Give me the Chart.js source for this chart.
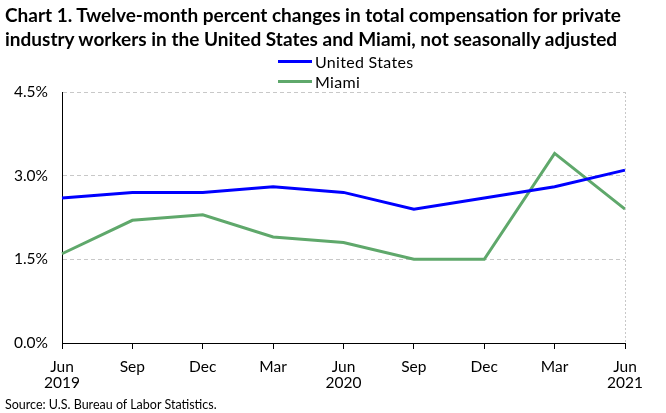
<!DOCTYPE html>
<html>
<head>
<meta charset="utf-8">
<script src="https://cdn.jsdelivr.net/npm/chart.js@4"></script>
<style>
  html, body { margin: 0; padding: 0; background: #fff; }
  #wrap { position: relative; width: 666px; height: 413px; overflow: hidden; font-family: Lato, "Open Sans", sans-serif; }
  #title { position: absolute; left: 5px; top: 3px; font-weight: bold; font-size: 19px; letter-spacing: 0px; line-height: 24px; color: #000; white-space: nowrap; }
  #legend { position: absolute; left: 278px; top: 51px; font-size: 16px; letter-spacing: 0.3px; color: #000; }
  .li { height: 20px; display: flex; align-items: center; }
  .sw { width: 34px; height: 3px; margin-right: 3px; }
  #source { position: absolute; left: 5px; top: 397px; font-size: 12.5px; letter-spacing: 0px; color: #000; white-space: nowrap; }
  canvas { position: absolute; left: 0; top: 0; }
</style>
</head>
<body>
<div id="wrap">
  <canvas id="c" width="666" height="413"></canvas>
  <div id="title">Chart 1. Twelve-month percent changes in total compensation for private<br>industry workers in the United States and Miami, not seasonally adjusted</div>
  <div id="legend"></div>
  <div id="source">Source: U.S. Bureau of Labor Statistics.</div>
</div>
<script>
const categories = [["Jun","2019"],"Sep","Dec","Mar",["Jun","2020"],"Sep","Dec","Mar",["Jun","2021"]];
const unitedStates = [2.6, 2.7, 2.7, 2.8, 2.7, 2.4, 2.6, 2.8, 3.1];
const miami = [1.6, 2.2, 2.3, 1.9, 1.8, 1.5, 1.5, 3.4, 2.4];
const yTicks = [0, 1.5, 3.0, 4.5];
const seriesNames = ["United States", "Miami"];
const seriesColors = ["#0000ff", "#5fa86b"];

const FONT = 'Lato, "Open Sans", sans-serif';

const legend = document.getElementById('legend');
seriesNames.forEach((n, i) => {
  const d = document.createElement('div');
  d.className = 'li';
  d.innerHTML = '<div class="sw" style="background:' + seriesColors[i] + '"></div><span>' + n + '</span>';
  legend.appendChild(d);
});

const rightEdge = {
  id: 'rightEdge',
  afterDraw(chart) {
    const a = chart.chartArea, ctx = chart.ctx;
    ctx.save();
    ctx.strokeStyle = '#c8c8c8';
    ctx.lineWidth = 1;
    ctx.setLineDash([2, 2]);
    ctx.beginPath();
    ctx.moveTo(Math.round(a.right) + 0.5, a.top);
    ctx.lineTo(Math.round(a.right) + 0.5, a.bottom);
    ctx.stroke();
    ctx.restore();
  }
};

new Chart(document.getElementById('c'), {
  type: 'line',
  data: {
    labels: categories,
    datasets: [
      { label: seriesNames[0], data: unitedStates, borderColor: seriesColors[0], borderWidth: 3, pointRadius: 0, tension: 0, fill: false },
      { label: seriesNames[1], data: miami, borderColor: seriesColors[1], borderWidth: 3, pointRadius: 0, tension: 0, fill: false }
    ]
  },
  options: {
    responsive: false,
    animation: false,
    devicePixelRatio: 1,
    layout: { autoPadding: false, padding: { top: 92, right: 41, left: 0, bottom: 0 } },
    plugins: { legend: { display: false }, title: { display: false }, tooltip: { enabled: false } },
    scales: {
      x: {
        type: 'category',
        offset: false,
        afterFit: s => { s.height = 70; },
        grid: { drawOnChartArea: false, drawTicks: true, tickLength: 6, color: '#000' },
        border: { display: true, color: '#000', width: 1 },
        ticks: { color: '#000', font: { family: FONT, size: 15.5, lineHeight: 1.05 }, padding: 10, maxRotation: 0, autoSkip: false }
      },
      y: {
        min: 0, max: 4.5,
        afterFit: s => { s.width = 62; },
        afterBuildTicks: s => { s.ticks = yTicks.map(v => ({ value: v })); },
        grid: { drawTicks: false, color: c => c.tick && c.tick.value === 0 ? 'rgba(0,0,0,0)' : '#c8c8c8', lineWidth: 1 },
        border: { display: true, color: '#000', width: 1, dash: [4, 3] },
        ticks: { color: '#000', font: { family: FONT, size: 15.5 }, padding: 14, callback: v => v.toFixed(1) + '%' }
      }
    }
  },
  plugins: [rightEdge]
});
</script>
</body>
</html>
